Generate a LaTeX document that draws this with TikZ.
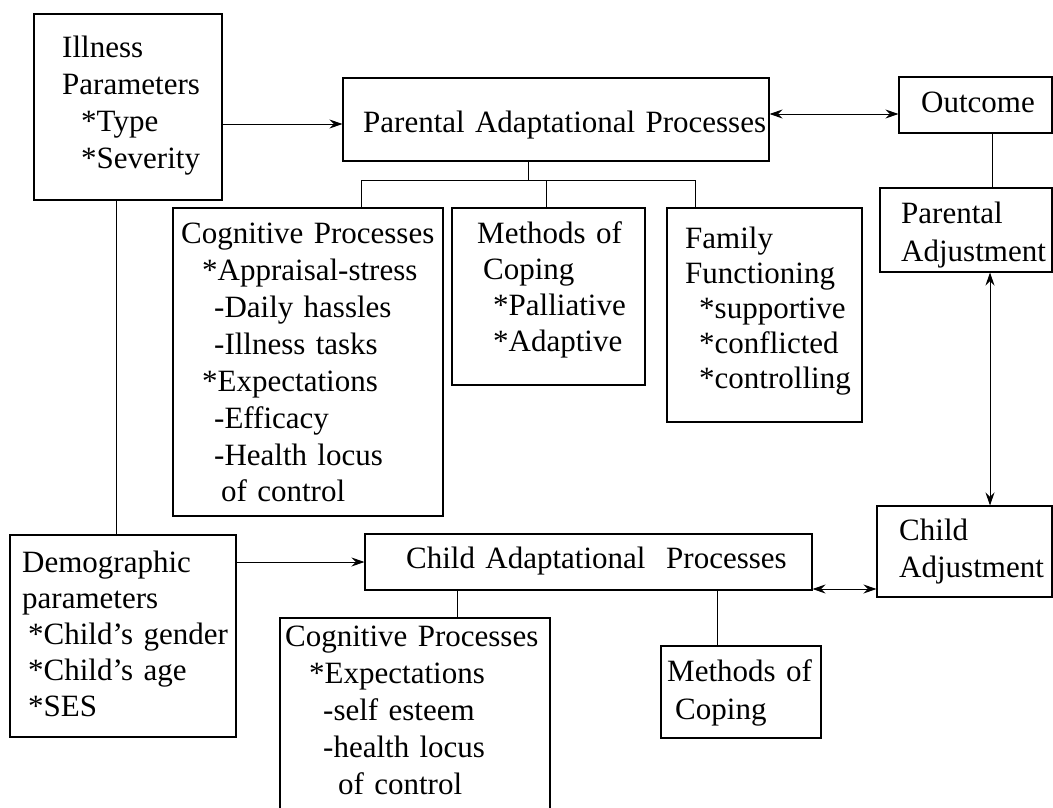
\documentclass[tikz,border=0pt]{standalone}
\usepackage{fontspec}
\setmainfont{Liberation Serif}
\newfontfamily\labelfont{Liberation Serif}
\usetikzlibrary{arrows.meta}

\tikzset{
  box/.style={draw, line width=1.1pt, inner sep=0pt, rectangle},
  txt/.style={inner sep=0pt, anchor=base west, text width=#1, align=left},
  txt/.default=300pt,
  line/.style={line width=0.9pt},
  tip/.tip={Stealth[length=13pt, width=9pt, inset=4.5pt]},
  arr/.style={line, -tip},
  dbl/.style={line, tip-tip},
}

\begin{document}
\begin{tikzpicture}[x=1pt, y=-1pt, font=\labelfont\fontsize{31}{37}\selectfont]
\useasboundingbox (0,0) rectangle (1053,808);

% boxes
\node[box, minimum width=188pt, minimum height=186pt] (illness) at (128,107) {};
\node[box, minimum width=426pt, minimum height=83pt]  (pap)     at (556,119.5) {};
\node[box, minimum width=153pt, minimum height=56pt]  (outcome) at (975.5,105) {};
\node[box, minimum width=172pt, minimum height=84pt]  (padj)    at (966,230) {};
\node[box, minimum width=175pt, minimum height=91pt]  (cadj)    at (964.5,551.5) {};
\node[box, minimum width=270pt, minimum height=308pt] (pcog)    at (308,362) {};
\node[box, minimum width=193pt, minimum height=177pt] (pmeth)   at (548.5,296.5) {};
\node[box, minimum width=195pt, minimum height=214pt] (pfam)    at (764.5,315) {};
\node[box, minimum width=226pt, minimum height=202pt] (demo)    at (123,636) {};
\node[box, minimum width=447pt, minimum height=56pt]  (cap)     at (588.5,562) {};
\node[box, minimum width=270pt, minimum height=197pt] (ccog)    at (415,716.5) {};
\node[box, minimum width=160pt, minimum height=92pt]  (cmeth)   at (741,692) {};

% texts
\node[txt] (illness-t) at (62,58)
  {Illness\\Parameters\\\hspace*{19pt}*Type\\\hspace*{19pt}*Severity};
\node[txt=420pt] (pap-t) at (363,132) {Parental Adaptational Processes};
\node[txt=150pt] (outcome-t) at (921,113) {Outcome};
\node[txt=170pt, font=\labelfont\fontsize{31}{38}\selectfont] (padj-t) at (901,223)
  {Parental\\Adjustment};
\node[txt] (pcog-t) at (181,243)
  {Cognitive Processes\\
   \hspace*{21pt}*Appraisal-stress\\
   \hspace*{33pt}-Daily hassles\\
   \hspace*{33pt}-Illness tasks\\
   \hspace*{21pt}*Expectations\\
   \hspace*{33pt}-Efficacy\\
   \hspace*{33pt}-Health locus\\
   \hspace*{40pt}of control};
\node[txt, font=\labelfont\fontsize{31}{36}\selectfont] (pmeth-t) at (477,243)
  {Methods of\\\hspace*{6pt}Coping\\\hspace*{16pt}*Palliative\\\hspace*{16pt}*Adaptive};
\node[txt, font=\labelfont\fontsize{31}{35}\selectfont] (pfam-t) at (685,248)
  {Family\\Functioning\\\hspace*{14pt}*supportive\\\hspace*{14pt}*conflicted\\\hspace*{14pt}*controlling};
\node[txt, font=\labelfont\fontsize{31}{36}\selectfont] (demo-t) at (22,572)
  {Demographic\\parameters\\\hspace*{6pt}*Child’s gender\\\hspace*{6pt}*Child’s age\\\hspace*{6pt}*SES};
\node[txt=440pt] (cap-t) at (406,568) {Child Adaptational\ \ Processes};
\node[txt=170pt] (cadj-t) at (899,540) {Child\\Adjustment};
\node[txt] (ccog-t) at (285,646)
  {Cognitive Processes\\
   \hspace*{24pt}*Expectations\\
   \hspace*{38pt}-self esteem\\
   \hspace*{38pt}-health locus\\
   \hspace*{53pt}of control};
\node[txt=160pt, font=\labelfont\fontsize{31}{38}\selectfont] (cmeth-t) at (667,681)
  {Methods of\\\hspace*{8pt}Coping};

% routing coordinates
\coordinate (ay1) at (0,124);
\coordinate (ay2) at (0,114);
\coordinate (ay3) at (0,589);
\coordinate (ax1) at (992,0);
\coordinate (ax2) at (990,0);
\coordinate (dx)  at (116,0);
\coordinate (busT) at (528,180);
\coordinate (busL) at (361,180);
\coordinate (busC) at (546,180);
\coordinate (busR) at (695,180);
\coordinate (cx1) at (457,0);
\coordinate (cx2) at (717,0);

% connectors
\draw[arr] (illness.east |- ay1) -- (pap.west |- ay1);
\draw[dbl] (pap.east |- ay2) -- (outcome.west |- ay2);
\draw[line] (outcome.south -| ax1) -- (padj.north -| ax1);
\draw[dbl] (padj.south -| ax2) -- (cadj.north -| ax2);

\draw[line] (pap.south -| busT) -- (busT);
\draw[line] (pcog.north -| busL) -- (busL) -- (busR) -- (pfam.north -| busR);
\draw[line] (busC) -- (pmeth.north -| busC);

\draw[line] (illness.south -| dx) -- (demo.north -| dx);
\draw[arr] (demo.east |- cap.west) -- (cap.west);
\draw[line] (cap.south -| cx1) -- (ccog.north -| cx1);
\draw[line] (cap.south -| cx2) -- (cmeth.north -| cx2);
\draw[dbl] (cap.east |- ay3) -- (cadj.west |- ay3);
\end{tikzpicture}
\end{document}
